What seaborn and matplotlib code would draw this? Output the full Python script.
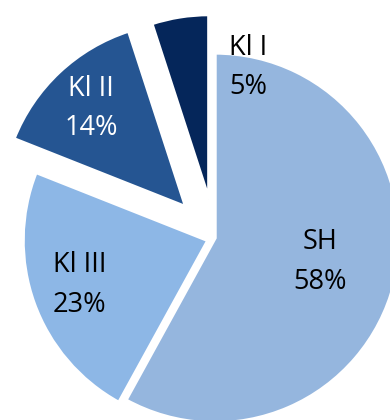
import matplotlib
matplotlib.use("Agg")
import matplotlib.pyplot as plt
import seaborn as sns

categories = ["SH", "Kl III", "Kl II", "Kl I"]
values = [58, 23, 14, 5]
colors = ["#95B6DE", "#8DB7E6", "#255592", "#05265A"]
label_colors = ["black", "black", "white", "black"]

sns.set_style("white")
plt.rcParams["font.family"] = ["Open Sans", "DejaVu Sans"]

fig = plt.figure(figsize=(3.9, 4.2), dpi=100)
ax = fig.add_axes([0, 0, 1, 1])

explode = [0.0, 0.04, 0.23, 0.21]
wedges, _ = ax.pie(values, colors=colors, startangle=90, counterclock=False,
                   explode=explode, radius=1.0,
                   wedgeprops=dict(edgecolor="white", linewidth=2.5))

label_pos = [(0.57, -0.13), (-0.73, -0.254), (-0.67, 0.70), (0.18, 0.92)]
total = sum(values)
for cat, v, (x, y), c in zip(categories, values, label_pos, label_colors):
    ax.text(x, y, f"{cat}\n{round(100 * v / total)}%", ha="center", va="center",
            fontsize=19.5, color=c, linespacing=1.55)

ax.set_aspect("auto")
ax.set_xlim(-1.162, 0.946)
ax.set_ylim(-0.984, 1.286)
ax.axis("off")

fig.savefig("out.png", dpi=100)
